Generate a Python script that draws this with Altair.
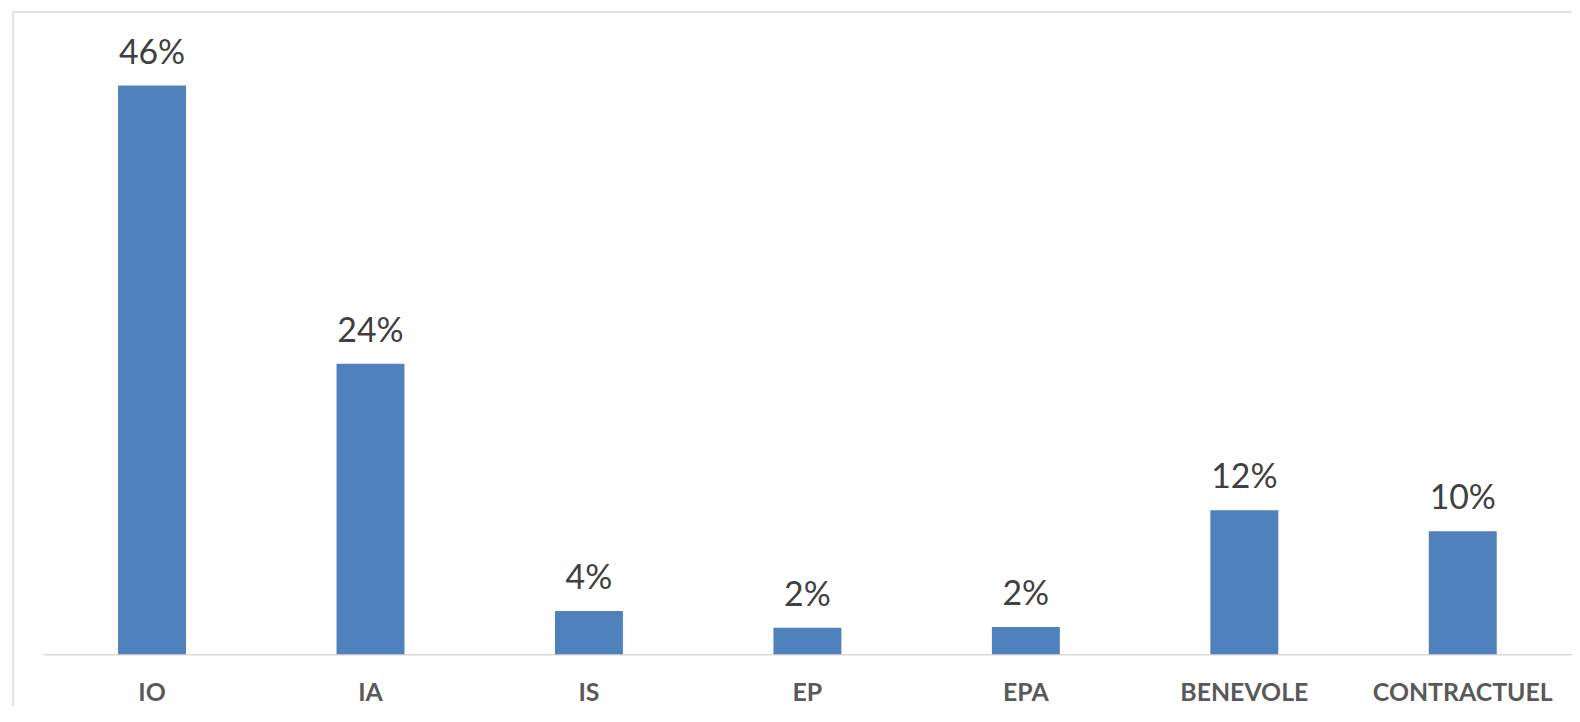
import altair as alt
import pandas as pd

categories = ["IO", "IA", "IS", "EP", "EPA", "BENEVOLE", "CONTRACTUEL"]
values = [46.0, 23.5, 3.5, 2.15, 2.2, 11.66, 9.95]
labels = ["46%", "24%", "4%", "2%", "2%", "12%", "10%"]

df = pd.DataFrame({"cat": categories, "val": values, "lab": labels})

FONT = "Lato"

x_enc = alt.X(
    "cat:N",
    sort=categories,
    title=None,
    scale=alt.Scale(paddingInner=0.689, paddingOuter=0.3445, round=False),
    axis=alt.Axis(
        labelAngle=0,
        ticks=False,
        labelPadding=46,
        labelBaseline="alphabetic",
        labelFont=FONT,
        labelFontSize=25,
        labelFontWeight="bold",
        labelColor="#595959",
        labelLimit=0,
        domainColor="#d9d9d9",
        domainWidth=1.5,
        grid=False,
    ),
)
y_enc = alt.Y("val:Q", axis=None, scale=alt.Scale(domain=[0, 46], nice=False, zero=True))

bars = alt.Chart(df).mark_bar(color="#4F81BD").encode(x=x_enc, y=y_enc)

text = alt.Chart(df).mark_text(
    dy=-22, baseline="alphabetic", font=FONT, fontSize=34, color="#404040"
).encode(x=alt.X("cat:N", sort=categories), y="val:Q", text="lab:N")

frame = alt.Chart(alt.Data(values=[{"a": 1}])).mark_rect(
    fillOpacity=0, stroke="#d9d9d9", strokeWidth=1.5
).encode(
    x=alt.value(-30), x2=alt.value(1620), y=alt.value(-74), y2=alt.value(700)
)

chart = alt.layer(frame, bars, text).properties(
    width=1538,
    height=572,
    background="white",
    autosize=alt.AutoSizeParams(type="none"),
    padding={"left": 35, "top": 76, "right": 0, "bottom": 50},
).configure_view(stroke=None, strokeWidth=0)

chart.save("out.html", embed_options={"renderer": "svg", "actions": False})
